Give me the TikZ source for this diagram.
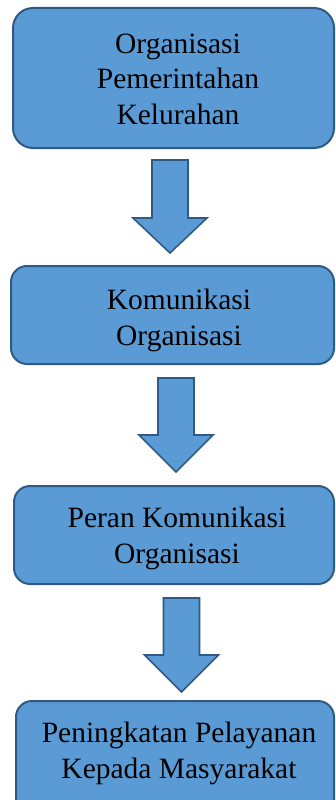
\documentclass[tikz,border=0pt]{standalone}
\usepackage{fontspec}
\setmainfont{Liberation Serif}
\definecolor{boxfill}{HTML}{5B9BD5}
\definecolor{boxline}{HTML}{2F5A86}
\tikzset{
  flowbox/.style={draw=boxline, fill=boxfill, line width=2pt, rounded corners=16pt, anchor=north west, inner sep=0pt},
  flowtext/.style={align=center, font=\fontsize{29.5}{35.5}\selectfont, inner sep=0pt},
  blockarrow/.style={draw=boxline, fill=boxfill, line width=1.6pt, line join=miter}
}
\begin{document}
\begin{tikzpicture}[x=1pt, y=-1pt]
\useasboundingbox (0,0) rectangle (335,800);
% boxes
\node[flowbox, rounded corners=20pt, minimum width=321pt, minimum height=140pt] (b1) at (12,7) {};
\node[flowbox, minimum width=323pt, minimum height=98pt] (b2) at (10,265) {};
\node[flowbox, minimum width=320pt, minimum height=98pt] (b3) at (13,485) {};
\node[flowbox, minimum width=318pt, minimum height=115pt] (b4) at (15,700) {};
% texts
\node[flowtext] (t1) at (178,79) {Organisasi\\Pemerintahan\\Kelurahan};
\node[flowtext] (t2) at (179,320.5) {Komunikasi\\Organisasi};
\node[flowtext] (t3) at (177,538.5) {Peran Komunikasi\\Organisasi};
\node[flowtext] (t4) at (179,753.5) {Peningkatan Pelayanan\\Kepada Masyarakat};
% block arrows
\foreach \cx/\top/\neck/\tip [count=\i] in {170/160/218/253, 176/378/435/472, 181.5/598/655/692}{
  \draw[blockarrow] (\cx-18,\top) -- (\cx+18,\top) -- (\cx+18,\neck) -- (\cx+37,\neck)
     -- (\cx,\tip) -- (\cx-37,\neck) -- (\cx-18,\neck) -- cycle;
}
\end{tikzpicture}
\end{document}
